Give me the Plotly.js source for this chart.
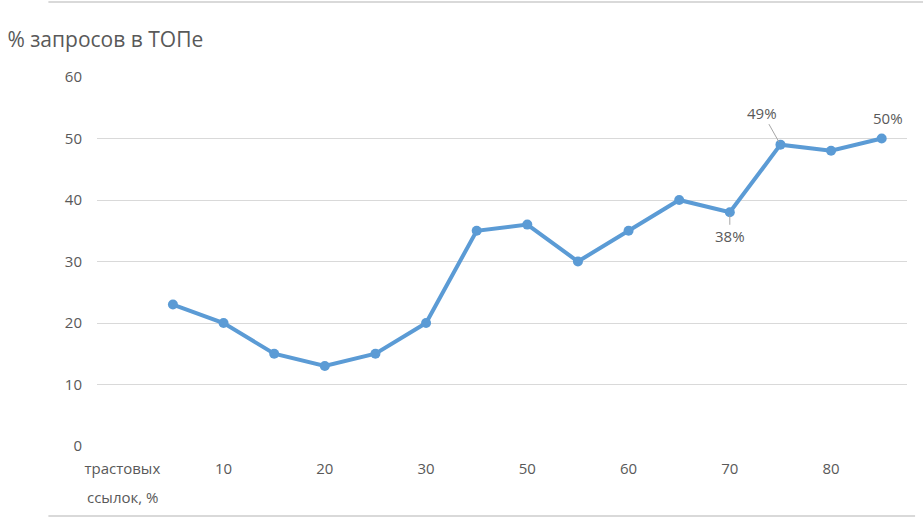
<!DOCTYPE html>
<html>
<head>
<meta charset="utf-8">
<script src="https://cdn.plot.ly/plotly-3.0.1.min.js"></script>
<style>html,body{margin:0;padding:0;background:#fff;}#chart{width:923px;height:519px;}</style>
</head>
<body>
<div id="chart"></div>
<script>
const categories = ["трастовых ссылок, %", "5", "10", "15", "20", "25", "30", "40", "50", "55", "60", "65", "70", "75", "80", "85"];
const values = [null, 23, 20, 15, 13, 15, 20, 35, 36, 30, 35, 40, 38, 49, 48, 50];
const tickCategories = ["трастовых ссылок, %", "10", "20", "30", "50", "60", "70", "80"];
const tickLabels = ["трастовых", "10", "20", "30", "50", "60", "70", "80"];
const axisNoteSecondLine = "ссылок, %";
const labeledIdx = [12, 13, 15];
const labelOffsets = {12: [0, 24, true], 13: [-18, -32, true], 15: [6, -21, false]};

const FONT = "Open Sans, sans-serif";
const TXT = "#595959";

const annotations = labeledIdx.map(i => ({
  x: i, y: values[i], xref: 'x', yref: 'y',
  text: values[i] + '%',
  showarrow: true, arrowhead: 0, arrowwidth: 1,
  arrowcolor: labelOffsets[i][2] ? '#a6a6a6' : 'rgba(0,0,0,0)',
  ax: labelOffsets[i][0], ay: labelOffsets[i][1], standoff: 3,
  font: {family: FONT, size: 15, color: TXT}
}));
annotations.push({
  x: 0, xref: 'x', y: -0.138, yref: 'paper', yanchor: 'middle', xanchor: 'center',
  text: axisNoteSecondLine, showarrow: false,
  font: {family: FONT, size: 15, color: TXT}
});

const trace = {
  x: categories, y: values, type: 'scatter', mode: 'lines+markers',
  line: {color: '#5B9BD5', width: 4},
  marker: {color: '#5B9BD5', size: 10},
  connectgaps: false, hoverinfo: 'skip'
};

const layout = {
  width: 923, height: 519,
  margin: {l: 97, r: 16, t: 77, b: 73},
  paper_bgcolor: '#fff', plot_bgcolor: '#fff',
  showlegend: false,
  font: {family: FONT, color: TXT, size: 15},
  title: {text: '% запросов в ТОПе', x: 0.008, xanchor: 'left', y: 0.923, yanchor: 'middle',
          font: {family: FONT, size: 21, color: TXT}},
  xaxis: {
    type: 'category', categoryorder: 'array', categoryarray: categories,
    range: [-0.5, categories.length - 0.5],
    tickvals: tickCategories, ticktext: tickLabels,
    showgrid: false, zeroline: false, showline: false, ticks: '',
    ticklabelstandoff: 12,
    tickfont: {family: FONT, size: 15, color: TXT}, fixedrange: true
  },
  yaxis: {
    range: [0, 60], tickvals: [0, 10, 20, 30, 40, 50, 60],
    showgrid: true, gridcolor: '#d9d9d9', gridwidth: 1,
    zeroline: false, showline: false, ticks: '',
    ticklabelstandoff: 14,
    tickfont: {family: FONT, size: 15, color: TXT}, fixedrange: true
  },
  annotations: annotations,
  shapes: [
    {type: 'line', xref: 'paper', yref: 'paper', x0: -0.06, x1: 1.03, y0: 1.203, y1: 1.203,
     line: {color: '#d9d9d9', width: 2}},
    {type: 'line', xref: 'paper', yref: 'paper', x0: -0.06, x1: 1.01, y0: -0.19, y1: -0.19,
     line: {color: '#d9d9d9', width: 2}}
  ]
};

Plotly.newPlot('chart', [trace], layout, {displayModeBar: false, staticPlot: true});
</script>
</body>
</html>
